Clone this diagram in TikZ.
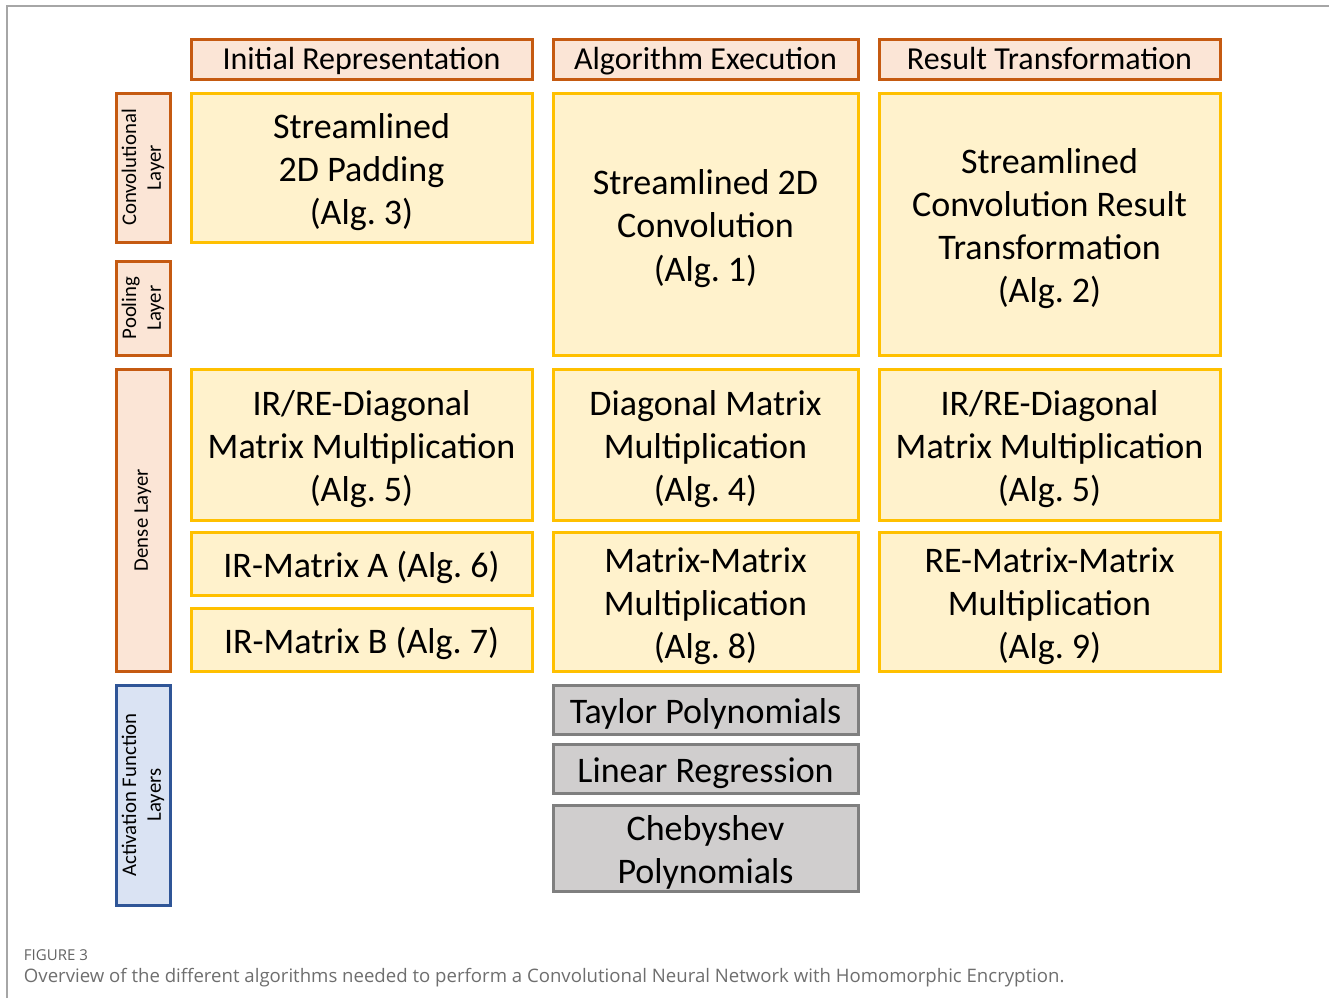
\documentclass[tikz,border=0pt]{standalone}
\usepackage{fontspec}
\setmainfont{Carlito}
\newfontfamily\capfont{Open Sans}
\usepackage{xcolor}
\usetikzlibrary{positioning}
\frenchspacing

\definecolor{hdrfill}{HTML}{FBE5D6}
\definecolor{hdrline}{HTML}{C55A11}
\definecolor{algfill}{HTML}{FFF2CC}
\definecolor{algline}{HTML}{FFC000}
\definecolor{actfill}{HTML}{D0CECE}
\definecolor{actline}{HTML}{7F7F7F}
\definecolor{bluefill}{HTML}{DAE3F3}
\definecolor{blueline}{HTML}{2F5597}
\definecolor{capgray}{HTML}{6E6E6E}

\begin{document}
\begin{tikzpicture}[
  x=0.5pt, y=-0.5pt,
  every node/.style={inner sep=0pt, outer sep=0pt},
  header/.style={draw=hdrline, fill=hdrfill, line width=1.5pt, minimum height=20pt,
    text height=13.5pt, text depth=2.8pt, font=\fontsize{16}{19}\selectfont},
  layerlbl/.style={draw=hdrline, fill=hdrfill, line width=1.5pt, rotate=90, minimum height=27pt,
    align=center, font=\fontsize{10.4}{12.4}\selectfont},
  % the tall strut drops the text block a little inside the box
  algbox/.style={draw=algline, fill=algfill, line width=1.5pt, align=flush center,
    font=\fontsize{18}{21.6}\selectfont, execute at begin node={\rule{0pt}{17pt}}},
  actbox/.style={algbox, draw=actline, fill=actfill, minimum width=152.5pt, text width=150pt},
  colA/.style={algbox, minimum width=170.5pt, text width=166pt},
  colB/.style={algbox, minimum width=152.5pt, text width=150pt},
  colC/.style={algbox, minimum width=170.5pt, text width=166pt}
]
\useasboundingbox (0,0) rectangle (1329,998);
% open frame round the figure
\draw[gray!70, line width=0.75pt] (7,998) -- (7,6) -- (1329,6);

% column headers
\node[header, minimum width=170.5pt] (initrep) at (361.5,59) {Initial Representation};
\node[header, minimum width=152.5pt] (algexec) at (705.5,59) {Algorithm Execution};
\node[header, minimum width=170.5pt] (restrans) at (1049.5,59) {Result Transformation};

% layer labels on the left
\node[layerlbl, minimum width=74.5pt] (convlayer) at (143,167.5) {Convolutional\\Layer};
\node[layerlbl, minimum width=47pt] (poollayer) at (143,308) {Pooling\\Layer};
\node[layerlbl, minimum width=151pt] (denselayer) at (143,520) {Dense Layer};
\node[layerlbl, minimum width=110pt, draw=blueline, fill=bluefill] (actlayer) at (143,795)
  {Activation Function\\Layers};

% Initial representation
\node[colA, minimum height=74.5pt] (padding) at (361.5,167.5) {Streamlined\\2D Padding\\(Alg. 3)};
\node[colA, minimum height=75.5pt] (irdiag) at (361.5,444.5) {IR/RE-Diagonal\\Matrix Multiplication\\(Alg. 5)};
\node[colA, minimum height=31.5pt] (irmata) at (361.5,563.5) {IR-Matrix A (Alg. 6)};
\node[colA, minimum height=31.5pt] (irmatb) at (361.5,639.5) {IR-Matrix B (Alg. 7)};

% Algorithm execution
\node[colB, minimum height=131pt] (conv) at (705.5,224) {Streamlined 2D\\Convolution\\(Alg. 1)};
\node[colB, minimum height=75.5pt] (diagmult) at (705.5,444.5) {Diagonal Matrix\\Multiplication\\(Alg. 4)};
\node[colB, minimum height=69.5pt] (matmat) at (705.5,601.5) {Matrix-Matrix\\Multiplication\\(Alg. 8)};
\node[actbox, minimum height=24.5pt] (taylor) at (705.5,709.5) {Taylor Polynomials};
\node[actbox, minimum height=24.5pt] (linreg) at (705.5,768.5) {Linear Regression};
\node[actbox, minimum height=43pt] (cheby) at (705.5,848) {Chebyshev\\Polynomials};

% Result transformation
\node[colC, minimum height=131pt] (convres) at (1049.5,224)
  {Streamlined\\Convolution Result\\Transformation\\(Alg. 2)};
\node[colC, minimum height=75.5pt] (rediag) at (1049.5,444.5) {IR/RE-Diagonal\\Matrix Multiplication\\(Alg. 5)};
\node[colC, minimum height=69.5pt] (rematmat) at (1049.5,601.5) {RE-Matrix-Matrix\\Multiplication\\(Alg. 9)};

% caption
\node[anchor=west, font=\capfont\fontsize{7.5}{9}\selectfont, text=capgray!90!black] (fignum) at (24,955) {FIGURE 3};
\node[anchor=west, font=\capfont\fontsize{9.3}{11}\selectfont, text=capgray] (figcap) at (24,978)
  {Overview of the different algorithms needed to perform a Convolutional Neural Network with Homomorphic Encryption.};
\end{tikzpicture}
\end{document}
